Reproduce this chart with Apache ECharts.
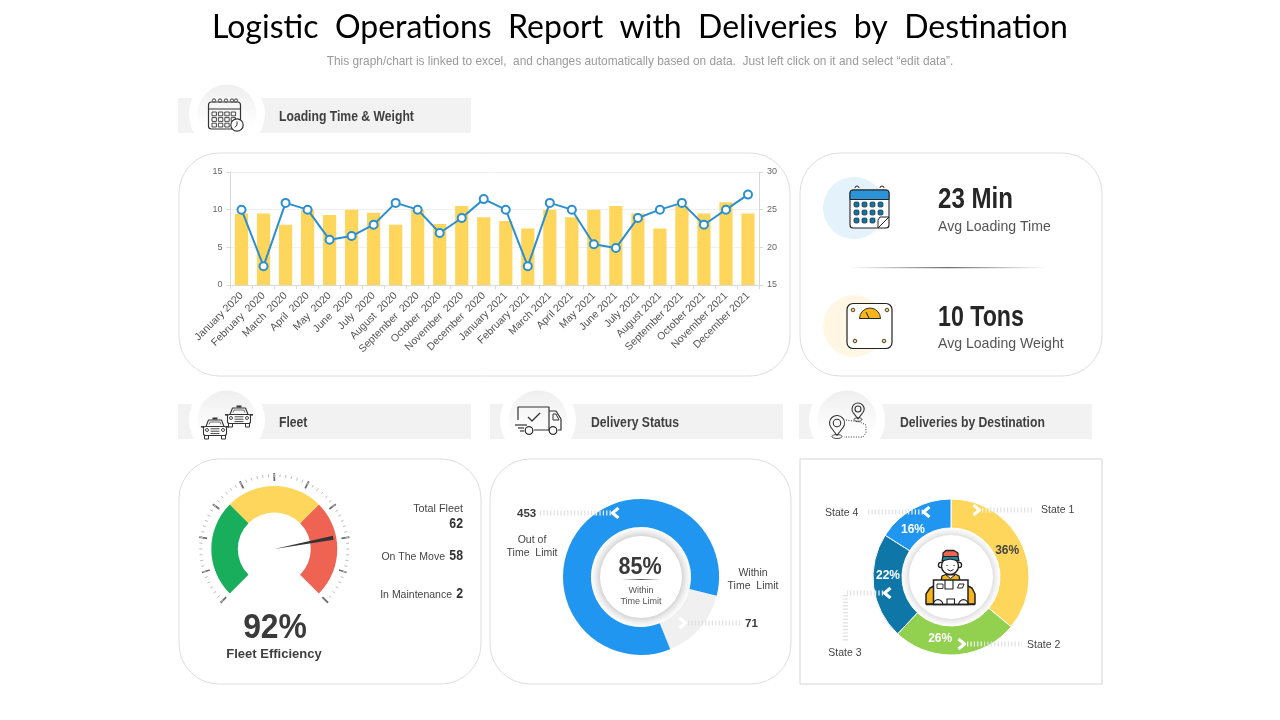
<!DOCTYPE html>
<html><head><meta charset="utf-8">
<style>html,body{margin:0;padding:0;background:#fff}#c{width:1280px;height:720px}</style>
<script src="https://cdn.jsdelivr.net/npm/echarts@6/dist/echarts.min.js"></script>
</head><body><div id="c"></div>
<script>
const months = ['January 2020','February  2020','March  2020','April  2020','May  2020','June  2020','July  2020','August  2020','September  2020','October  2020','November  2020','December  2020','January 2021','February 2021','March 2021','April 2021','May 2021','June 2021','July 2021','August 2021','September 2021','October 2021','November 2021','December 2021'];
const weightValues = [9.5,9.5,8,10,9.3,10,9.6,8,10,8.1,10.5,9,8.5,7.5,10,9,10,10.5,9.5,7.5,10.5,9.5,11,9.5];
const timeValues = [25,17.5,25.9,25,21,21.5,23,25.9,25,21.9,23.9,26.4,25,17.5,25.9,25,20.4,19.9,23.9,25,25.9,23,25,27];
const needleValue = 79.3;
const statusNames = ['Within Time Limit','Out of Time Limit'];
const statusValues = [15,85];
const stateNames = ['State 1','State 2','State 3','State 4'];
const stateValues = [36,26,22,16];

const SANS='"Liberation Sans",Arial,sans-serif';
const INK='#333333';
const g=[];
function R(x,y,w,h,o={}){g.push({type:'rect',z:o.z??0,shape:{x,y,width:w,height:h,r:o.r||0},style:{fill:o.fill??'none',stroke:o.stroke,lineWidth:o.lw??1}});}
function C(cx,cy,r,o={}){g.push({type:'circle',z:o.z??10,shape:{cx,cy,r},style:{fill:o.fill??'none',stroke:o.stroke,lineWidth:o.lw??1}});}
function P(points,o={}){g.push({type:o.fill?'polygon':'polyline',z:o.z??10,shape:{points},style:{fill:o.fill??'none',stroke:o.stroke??INK,lineWidth:o.lw??1.2,lineDash:o.dash,lineCap:o.cap,lineJoin:'round'}});}
function A(cx,cy,r,s,e,o={}){g.push({type:'arc',z:o.z??10,shape:{cx,cy,r,startAngle:s,endAngle:e,clockwise:true},style:{fill:'none',stroke:o.stroke??INK,lineWidth:o.lw??1.2}});}
function S(cx,cy,r,s,e,o={}){g.push({type:'sector',z:o.z??10,shape:{cx,cy,r,r0:0,startAngle:s,endAngle:e,clockwise:true},style:{fill:o.fill,stroke:o.stroke,lineWidth:o.lw??1}});}
function T(x,y,text,o={}){g.push({type:'text',z:o.z??12,x,y:y+1,scaleX:o.sx??1,style:{x:0,y:0,text,fill:o.color??'#444',font:(o.weight??'normal')+' '+(o.size??10)+'px '+(o.font??SANS),textAlign:o.align??'left',textVerticalAlign:'middle'}});}

// title
T(640,27,'Logistic  Operations  Report  with  Deliveries  by  Destination',{size:32,font:'Lato,"Open Sans",sans-serif',color:'#000',align:'center'});
T(640,61,'This graph/chart is linked to excel,  and changes automatically based on data.  Just left click on it and select “edit data”.',{size:11.9,color:'#9a9a9a',align:'center'});

// panels
R(179,153,611,223,{r:40,fill:'#fff',stroke:'#dedede'});
R(800,153,302,223,{r:40,fill:'#fff',stroke:'#dedede'});
R(179,459,302,225,{r:40,fill:'#fff',stroke:'#dedede'});
R(490,459,301,225,{r:40,fill:'#fff',stroke:'#dedede'});
R(800,459,302,225,{fill:'#fff',stroke:'#d4d4d4'});

// headers
function header(x,cy,cx,label,tx){
  R(x,cy-16,293,35,{fill:'#f2f2f2',z:1});
  C(cx,cy,38,{fill:'#fff',z:2});
  g.push({type:'circle',z:3,shape:{cx,cy,r:29.5},style:{fill:{type:'linear',x:0,y:0,x2:0,y2:1,colorStops:[{offset:0,color:'#efefef'},{offset:.75,color:'#ffffff'},{offset:1,color:'#ffffff'}]}}});
  T(tx,cy+2.5,label,{size:14,weight:'bold',sx:.87,color:'#404040'});
}
header(178,114,227,'Loading Time & Weight',279);
header(178,420,227,'Fleet',279);
header(490,420,538,'Delivery Status',591);
header(799,420,847,'Deliveries by Destination',900);

// header calendar icon
R(208.5,102,32,27,{r:3,stroke:INK,lw:1.2,z:10});
P([[208.5,109],[240.5,109]]);
[214,220,226,232,236].forEach(x=>C(x,100.5,1.6,{stroke:INK,fill:'#fff'}));
for(let r=0;r<3;r++)for(let c=0;c<4;c++){ if(r==2&&c==3)continue; R(212+c*6.4,112+r*5.6,4.4,3.8,{stroke:INK,lw:.9,z:10}); }
C(237,125,6.2,{stroke:INK,fill:'#fff',lw:1.2});
P([[237,121.5],[237,125],[234.8,127.4]],{lw:1});

// taxi icons
function car(x,y){
  R(x-2.5,y-9.5,5,2,{fill:INK,z:10});
  P([[x-9,y-0.5],[x-6.5,y-7],[x+6.5,y-7],[x+9,y-0.5]],{lw:1.1});
  R(x-11.5,y-0.5,23,9,{r:2,stroke:INK,fill:'#fff',lw:1.1,z:10});
  P([[x-6,y-2.5],[x-5,y-5],[x+5,y-5],[x+6,y-2.5]],{lw:.7});
  R(x-14,y-1,3,1.6,{fill:INK,z:10}); R(x+11,y-1,3,1.6,{fill:INK,z:10});
  C(x-8,y+3,1.5,{stroke:INK,lw:.9}); C(x+8,y+3,1.5,{stroke:INK,lw:.9});
  P([[x-4.5,y+1.8],[x+4.5,y+1.8]],{lw:.9}); P([[x-4.5,y+4.2],[x+4.5,y+4.2]],{lw:.9});P([[x-4.5,y+6.6],[x+4.5,y+6.6]],{lw:.9});
  R(x-10.5,y+8.5,4,3.5,{stroke:INK,lw:1,z:10}); R(x+6.5,y+8.5,4,3.5,{stroke:INK,lw:1,z:10});
}
car(239,415); car(215,427);

// truck icon
P([[518,420],[518,407],[549,407],[549,430],[534,430]]);
P([[549,411],[556,411],[561,419],[561,430],[558,430]]);
P([[553,414],[556,414],[559,420],[553,420],[553,414]],{lw:1});
P([[515,425],[527,425]]); P([[518,428],[524,428]]);P([[520,431],[524,431]]);
C(529,430.5,3.8,{stroke:INK,fill:'#fff',lw:1.3});C(553,430.5,3.8,{stroke:INK,fill:'#fff',lw:1.3});
P([[528,417],[532,421],[540,413]],{lw:1.3});

// pins icon
function pin(x,y,r,tip){
  const a=Math.PI*.22, ca=Math.cos(a)*r, sa=Math.sin(a)*r;
  A(x,y,r,Math.PI-a,a,{lw:1.1});
  P([[x-ca,y+sa],[x,tip],[x+ca,y+sa]],{lw:1.1});
  C(x,y,r*.5,{stroke:INK,lw:1.1});
}
pin(858,409,6,419); pin(837,423,7.5,435.5);
g.push({type:'ellipse',z:10,shape:{cx:858,cy:419.5,rx:4,ry:1.8},style:{fill:'none',stroke:INK,lineWidth:.9}});
g.push({type:'ellipse',z:10,shape:{cx:837,cy:436.5,rx:5,ry:2},style:{fill:'none',stroke:INK,lineWidth:.9}});
P([[846,420],[860,422],[866,425],[866,433],[863,437],[844,437]],{dash:[1,1.5],lw:1});

// KPI
C(854,208,31,{fill:'#E4F3FB',z:3});
C(854,326,31,{fill:'#FFF7E3',z:3});
// big calendar
R(850,190,39,38,{r:3,fill:'#fff',stroke:'#222',lw:1.1,z:10});
g.push({type:'rect',z:10,shape:{x:850,y:190,width:39,height:9.5,r:[3,3,0,0]},style:{fill:'#2B93D6',stroke:'#222',lineWidth:1}});
[857,882].forEach(x=>A(x,188,2,Math.PI,0,{lw:1,stroke:'#222'}));
for(let r=0;r<3;r++)for(let c=0;c<4;c++){ if(r==2&&c==3)continue; R(854+c*8,202+r*8,5,5,{r:1.4,fill:'#0F77A8',stroke:'#222',lw:.7,z:10}); }
P([[878,228],[889,217],[880,217],[878,220],[878,228]],{fill:'#fff',stroke:'#222',lw:1});
// scale
g.push({type:'rect',z:10,shape:{x:847,y:303.5,width:45,height:45,r:6},style:{fill:'#fff',stroke:'#222',lineWidth:1.2}});
S(870,318.5,10.5,Math.PI,0,{fill:'#F5B51B',stroke:'#222',lw:.9});
P([[859.5,318.5],[880.5,318.5]],{lw:1,stroke:'#222'});
P([[869,318],[866,312]],{lw:1,stroke:'#222'});
[[853,310],[887,310],[855,341],[884,341]].forEach(p=>C(p[0],p[1],1.8,{fill:'#F5D36B',stroke:'#222',lw:.8}));
T(938,199,'23 Min',{size:29,weight:'bold',sx:.83,color:'#262626'});
T(938,226,'Avg Loading Time',{size:14.1,color:'#555'});
T(938,317,'10 Tons',{size:29,weight:'bold',sx:.8,color:'#262626'});
T(938,343,'Avg Loading Weight',{size:14.1,color:'#555'});
g.push({type:'rect',z:5,shape:{x:848,y:267,width:200,height:1.2},style:{fill:{type:'linear',x:0,y:0,x2:1,y2:0,colorStops:[{offset:0,color:'rgba(120,120,120,0)'},{offset:.5,color:'rgba(110,110,110,1)'},{offset:1,color:'rgba(120,120,120,0)'}]}}});

// fleet text
T(463,508,'Total Fleet',{size:10.8,align:'right',color:'#444'});
T(463,523,'62',{size:14,weight:'bold',align:'right',sx:.88,color:'#333'});
T(445,556,'On The Move',{size:10.5,align:'right'});
T(463,555,'58',{size:14,weight:'bold',align:'right',sx:.88,color:'#333'});
T(452,594,'In Maintenance',{size:10.5,align:'right'});
T(463,593,'2',{size:14,weight:'bold',align:'right',sx:.88,color:'#333'});
T(275,627,'92%',{size:35,weight:'bold',align:'center',sx:.91,color:'#3a3a3a'});
T(274,653,'Fleet Efficiency',{size:13,weight:'bold',align:'center',color:'#3f3f3f'});

// delivery status text
T(640,566,'85%',{size:24,weight:'bold',align:'center',sx:.9,color:'#3a3a3a'});
g.push({type:'rect',z:12,shape:{x:621,y:579,width:40,height:1},style:{fill:{type:'linear',x:0,y:0,x2:1,y2:0,colorStops:[{offset:0,color:'rgba(90,90,90,0)'},{offset:.5,color:'rgba(90,90,90,1)'},{offset:1,color:'rgba(90,90,90,0)'}]}}});
T(641,590,'Within',{size:9,align:'center',color:'#555'});
T(641,601,'Time Limit',{size:9,align:'center',color:'#555'});
T(517,513,'453',{size:11.5,weight:'bold',color:'#3a3a3a'});
T(532,539,'Out of',{size:10.5,align:'center'});
T(532,552,'Time  Limit',{size:10.5,align:'center'});
T(753,572,'Within',{size:10.5,align:'center'});
T(753,585,'Time  Limit',{size:10.5,align:'center'});
T(745,623,'71',{size:11.5,weight:'bold',color:'#3a3a3a'});

// leaders: a pale part over the page and a white part over the ring
function lead(pts,col){P(pts,{stroke:col??'#e0e0e0',lw:5,dash:[1.2,2.2],z:11});}
function chev(x,y,dir){P([[x-dir*3.5,y-5],[x+dir*2.5,y],[x-dir*3.5,y+5]],{stroke:'#fff',lw:3,z:11});}
lead([[540,513],[596,513]]); lead([[596,513],[612,513]],'#f4f4f4'); chev(615,513,-1);
lead([[688,623],[741,623]]); chev(683,623,1);
lead([[982,510],[990,510]],'#fff6d8'); lead([[990,510],[1034,510]]); chev(977,510,1);
lead([[967,644],[984,644]],'#f4f4f4'); lead([[984,644],[1022,644]]); chev(962,644,1);
lead([[883,593],[875,593]],'#f4f4f4'); lead([[875,593],[847,593]]); lead([[845.5,595],[845.5,642]]); chev(887,593,-1);
lead([[868,512],[908,512]]); lead([[908,512],[923,512]],'#f4f4f4'); chev(926,512,-1);
T(1041,509,'State 1',{size:10.5}); T(1027,644,'State 2',{size:10.5});
T(845,652,'State 3',{size:10.5,align:'center'}); T(825,512,'State 4',{size:10.5});

// delivery person icon
const K='#222';
P([[926,604],[926,594],[930,588],[936,585],[966,585],[972,588],[975,594],[975,604]],{fill:'#F5B51B',stroke:K,lw:1.5});
P([[941,581],[942,576],[947,574],[955,574],[959,576],[960,581]],{fill:'#F5B51B',stroke:K,lw:1.3});
C(941,565,2.6,{fill:'#fff',stroke:K,lw:1.3});C(959,565,2.6,{fill:'#fff',stroke:K,lw:1.3});
C(950,566,8.5,{fill:'#fff',stroke:K,lw:1.4});
P([[943,558],[943,553],[946,550.5],[954,550.5],[958,553],[958,558]],{fill:'#EE6352',stroke:K,lw:1.3});
P([[942,561],[943,556.5],[958,556.5],[959,561],[950,559],[942,561]],{fill:'#1F8A9E',stroke:K,lw:1.2});
P([[947,565],[947,565.8]],{lw:1.5,stroke:K});P([[954,565],[954,565.8]],{lw:1.5,stroke:K});
P([[947.5,569.5],[950.5,571],[953.5,569.5]],{lw:1,stroke:K});
P([[946,575],[950.5,578.5],[955,575]],{lw:1,stroke:K,fill:'#fff'});
R(933.5,580,34.5,24.5,{fill:'#fff',stroke:K,lw:1.5,z:10});
P([[945,580],[945,589],[953,589],[953,580]],{lw:1.1,stroke:K});
R(937,584,6,4.5,{fill:'#fff',stroke:K,lw:.9,z:10});
P([[957.5,588],[959,584],[964,584],[962.5,588],[957.5,588]],{lw:1,stroke:K});
A(938,604.5,4.8,Math.PI,0,{lw:1.2,stroke:K}); A(963.5,604.5,4.8,Math.PI,0,{lw:1.2,stroke:K});
R(947,599,7.5,5.5,{stroke:K,lw:1.1,z:10});
P([[926,604.5],[975,604.5]],{lw:1.5,stroke:K});

const RING={type:'radial',x:.5,y:.5,r:.5,colorStops:[{offset:.82,color:'#d6d6d6'},{offset:.9,color:'#ececec'},{offset:1,color:'#ffffff'}]};
const stateLabelNudges=[[-4,2],[-15,-5],[3,-10],[-6,11]];
const option={
  animation:false,
  backgroundColor:'#fff',
  textStyle:{fontFamily:SANS},
  grid:{left:230.5,right:521,top:172,height:113,containLabel:false},
  xAxis:{type:'category',data:months,boundaryGap:true,
    axisLine:{lineStyle:{color:'#d9d9d9'}},axisTick:{show:true,length:4,lineStyle:{color:'#d9d9d9'}},
    axisLabel:{interval:0,rotate:45,fontSize:10.5,color:'#555',margin:9}},
  yAxis:[
    {type:'value',min:0,max:15,interval:5,axisLine:{show:true,lineStyle:{color:'#d9d9d9'}},axisTick:{show:true,length:4,lineStyle:{color:'#d9d9d9'}},
      axisLabel:{fontSize:9,color:'#666',margin:8},splitLine:{lineStyle:{color:'#f0f0f0'}}},
    {type:'value',min:15,max:30,interval:5,position:'right',axisLine:{show:true,lineStyle:{color:'#d9d9d9'}},axisTick:{show:true,length:4,lineStyle:{color:'#d9d9d9'}},
      axisLabel:{fontSize:9,color:'#666',margin:8},splitLine:{show:false}}
  ],
  series:[
    {type:'bar',name:'Weight',data:weightValues,barWidth:'60%',itemStyle:{color:'#FFD65C'},z:2},
    {type:'line',name:'Time',yAxisIndex:1,data:timeValues,symbol:'circle',symbolSize:8,lineStyle:{color:'#2B8FD0',width:2},
      itemStyle:{color:'#fff',borderColor:'#2B8FD0',borderWidth:2},z:3},
    {type:'gauge',center:[274.3,549],radius:77,startAngle:225,endAngle:-45,min:0,max:100,splitNumber:10,
      axisLine:{show:false,lineStyle:{width:1}},
      axisTick:{show:true,distance:1,splitNumber:6,length:3,lineStyle:{color:'#bdbdbd',width:1}},
      splitLine:{show:true,distance:0,length:8,lineStyle:{color:'#6f6f6f',width:1.8}},
      axisLabel:{show:false},pointer:{show:false},title:{show:false},detail:{show:false},data:[{value:needleValue}],z:2},
    {type:'gauge',center:[274.3,549],radius:63,startAngle:225,endAngle:-45,min:0,max:100,
      axisLine:{lineStyle:{width:26.5,color:[[1/3,'#18AE5B'],[2/3,'#FFD65C'],[1,'#EE6352']]}},
      axisTick:{show:false},splitLine:{show:false},axisLabel:{show:false},title:{show:false},detail:{show:false},
      pointer:{show:true,icon:'path://M0,0 L4,0 L2,60 Z',length:60,width:4,offsetCenter:[0,0],itemStyle:{color:'#333'}},
      anchor:{show:false},data:[{value:needleValue}],z:3},
    {type:'pie',center:[641,577],radius:[41,50],silent:true,label:{show:false},labelLine:{show:false},data:[{value:1,itemStyle:{color:RING}}],z:2},
    {type:'pie',center:[641,577],radius:[50,78],startAngle:-14,clockwise:true,silent:true,label:{show:false},labelLine:{show:false},
      data:statusNames.map((n,i)=>({name:n,value:statusValues[i],itemStyle:{color:['#F0F0F0','#2196F0'][i]}})),z:2},
    {type:'pie',center:[951,577],radius:[42,49],silent:true,label:{show:false},labelLine:{show:false},data:[{value:1,itemStyle:{color:RING}}],z:2},
    {type:'pie',center:[951,577],radius:[49,78],startAngle:90,clockwise:true,silent:true,
      label:{show:true,position:'inside',formatter:'{c}%',fontSize:12,fontWeight:'bold',color:'#fff'},labelLine:{show:false},
      itemStyle:{borderColor:'#fff',borderWidth:1},
      data:stateNames.map((n,i)=>({name:n,value:stateValues[i],itemStyle:{color:['#FFD65C','#92D14F','#0F77A8','#2196F0'][i]},
        label:{color:i===0?'#444':'#fff',offset:stateLabelNudges[i]}})),z:2}
  ],
  graphic:{elements:g}
};
const chart=echarts.init(document.getElementById('c'),null,{renderer:'canvas',width:1280,height:720});
chart.setOption(option);
</script></body></html>
